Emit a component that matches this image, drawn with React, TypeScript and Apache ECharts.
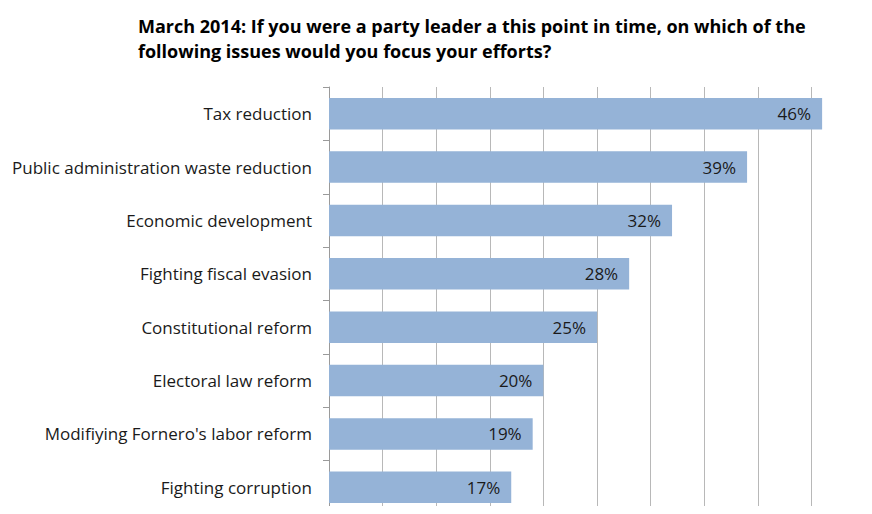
import React, { useEffect, useRef } from "react";
import * as echarts from "echarts";

const titleText =
  "March 2014: If you were a party leader a this point in time, on which of the\nfollowing issues would you focus your efforts?";
const categories = [
  "Tax reduction",
  "Public administration waste reduction",
  "Economic development",
  "Fighting fiscal evasion",
  "Constitutional reform",
  "Electoral law reform",
  "Modifiying Fornero's labor reform",
  "Fighting corruption",
];
const values = [46, 39, 32, 28, 25, 20, 19, 17];

export default function App() {
  const ref = useRef<HTMLDivElement>(null);
  useEffect(() => {
    const chart = echarts.init(ref.current!, null, { renderer: "svg" });
    chart.setOption({
      animation: false,
      title: {
        text: titleText,
        left: 133,
        top: 8,
        textStyle: {
          fontFamily: "Open Sans",
          fontWeight: "bold",
          fontSize: 18,
          lineHeight: 25,
          color: "#000",
        },
      },
      grid: { left: 329, right: 7, top: 87, height: 430, containLabel: false },
      xAxis: {
        type: "value",
        min: 0,
        max: 50,
        interval: 5,
        axisLabel: { show: false },
        axisLine: { show: false },
        axisTick: { show: false },
        splitLine: { show: true, lineStyle: { color: "#b8b8b8", width: 1 } },
      },
      yAxis: {
        type: "category",
        data: categories,
        inverse: true,
        axisLine: { show: true, lineStyle: { color: "#9a9a9a", width: 1 } },
        axisTick: { show: true, length: 6, lineStyle: { color: "#9a9a9a" } },
        axisLabel: {
          margin: 17,
          fontFamily: "Open Sans",
          fontSize: 17,
          color: "#1a1a1a",
        },
      },
      series: [
        {
          type: "bar",
          data: values,
          barWidth: "59%",
          itemStyle: { color: "#95b3d7" },
          label: {
            show: true,
            position: "insideRight",
            distance: 11,
            formatter: "{c}%",
            fontFamily: "Open Sans",
            fontSize: 17,
            color: "#1a1a1a",
          },
        },
      ],
    });
    return () => chart.dispose();
  }, []);
  return <div ref={ref} style={{ width: 872, height: 514, margin: -8 }} />;
}
